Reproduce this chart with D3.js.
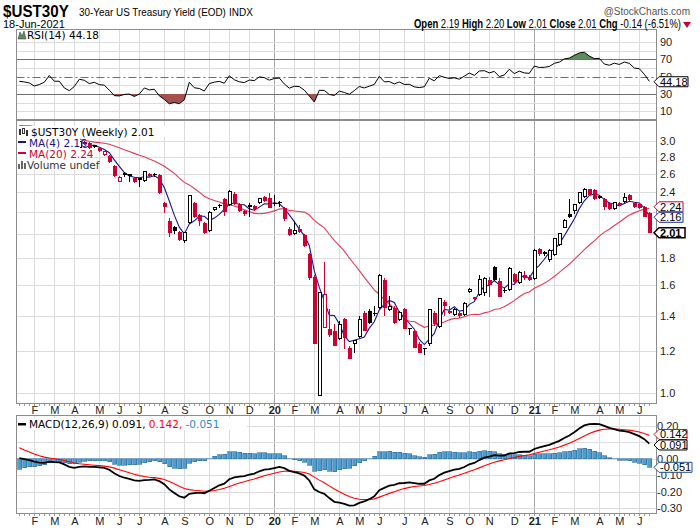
<!DOCTYPE html>
<html><head><meta charset="utf-8">
<script src="https://cdn.jsdelivr.net/npm/d3@7"></script>
<style>
body{margin:0;background:#fff}
svg{display:block}
text{font-family:"Liberation Sans",Arial,sans-serif}
.leg{font-family:"DejaVu Sans",Verdana,sans-serif;font-size:10.5px}
</style>
</head><body>
<svg id="c" width="700" height="530"></svg>
<script>
// ---------------- DATA ----------------
const firstWeek = "2019-01-14";   // Monday of first weekly bar
const weekCount = 127;
// weekly closes before the first visible bar (Jun 2018 - Jan 2019), used only to warm up indicators
const priorCloses = [3.04,3.07,3.04,3.04,2.98,2.94,2.94,3.03,3.08,3.08,3.03,3.06,3.05,3.02,3.10,3.07,3.20,3.19,3.40,3.32,3.38,3.31,3.46,3.38,3.31,3.32,3.30,3.14,3.14,3.02,3.03,2.98,2.99];
const opens = [2.98,3.06,3.05,3.04,2.98,3.00,3.02,3.10,3.03,3.02,2.88,2.84,2.91,2.98,2.97,2.94,2.90,2.82,2.81,2.69,
2.51,2.61,2.59,2.55,2.55,2.52,2.60,2.60,2.58,2.29,2.12,2.06,2.02,1.94,2.10,2.29,2.17,2.10,2.03,2.22,
2.27,2.33,2.27,2.38,2.28,2.21,2.27,2.26,2.29,2.35,2.34,2.29,2.30,2.24,2.04,2.00,2.04,1.99,1.83,1.66,
0.99,1.33,1.32,1.31,1.27,1.38,1.22,1.24,1.28,1.42,1.43,1.42,1.45,1.64,1.44,1.45,1.38,1.44,1.33,1.31,
1.24,1.22,1.24,1.42,1.34,1.49,1.43,1.41,1.42,1.41,1.56,1.52,1.54,1.55,1.64,1.73,1.63,1.57,1.57,1.68,
1.62,1.67,1.66,1.65,1.87,1.845,1.79,1.83,1.91,2.06,2.18,2.21,2.29,2.35,2.43,2.42,2.36,2.33,2.29,2.23,
2.29,2.30,2.37,2.29,2.28,2.25,2.19];
const highs = [3.08,3.08,3.07,3.05,3.03,3.03,3.12,3.10,3.05,3.05,2.91,2.91,3.00,2.99,2.98,2.95,2.92,2.86,2.82,2.70,
2.57,2.62,2.60,2.56,2.55,2.63,2.61,2.61,2.60,2.30,2.14,2.07,2.03,2.02,2.37,2.30,2.18,2.11,2.21,2.25,
2.28,2.34,2.42,2.40,2.29,2.22,2.29,2.27,2.34,2.36,2.39,2.37,2.31,2.25,2.06,2.12,2.08,2.00,1.84,1.67,
1.55,1.77,1.44,1.35,1.37,1.39,1.23,1.26,1.40,1.43,1.44,1.46,1.68,1.65,1.53,1.46,1.43,1.45,1.33,1.32,
1.25,1.22,1.44,1.43,1.51,1.50,1.46,1.45,1.43,1.49,1.58,1.52,1.67,1.66,1.66,1.74,1.65,1.58,1.73,1.69,
1.70,1.70,1.67,1.87,1.88,1.86,1.87,1.96,2.01,2.13,2.33,2.28,2.39,2.44,2.43,2.43,2.37,2.34,2.30,2.30,
2.30,2.39,2.38,2.30,2.29,2.26,2.20];
const lows = [2.97,3.03,2.99,2.97,2.97,2.99,3.02,3.02,3.00,2.88,2.81,2.84,2.90,2.95,2.89,2.90,2.85,2.81,2.72,2.56,
2.51,2.56,2.51,2.50,2.45,2.51,2.56,2.56,2.38,2.19,1.97,2.00,1.94,1.92,2.09,2.14,2.07,2.00,2.02,2.21,
2.24,2.16,2.26,2.27,2.20,2.16,2.15,2.21,2.28,2.30,2.24,2.26,2.25,2.12,1.98,1.99,2.01,1.89,1.64,1.24,
0.99,1.33,1.28,1.23,1.26,1.21,1.16,1.19,1.27,1.31,1.35,1.40,1.44,1.40,1.43,1.35,1.37,1.32,1.29,1.22,
1.19,1.18,1.23,1.34,1.33,1.40,1.41,1.40,1.39,1.40,1.55,1.50,1.53,1.53,1.52,1.63,1.52,1.55,1.56,1.61,
1.61,1.64,1.63,1.64,1.82,1.82,1.77,1.82,1.90,2.05,2.14,2.18,2.28,2.34,2.36,2.32,2.33,2.22,2.22,2.22,
2.26,2.29,2.31,2.24,2.23,2.15,2.01];
const closes = [3.06,3.05,3.03,2.97,2.99,3.02,3.12,3.02,3.02,2.88,2.81,2.87,2.99,2.97,2.90,2.92,2.87,2.86,2.74,2.57,
2.56,2.58,2.585,2.51,2.54,2.62,2.57,2.58,2.39,2.25,2.01,2.03,1.95,2.01,2.36,2.15,2.12,2.01,2.20,2.24,
2.26,2.20,2.41,2.28,2.21,2.18,2.25,2.23,2.33,2.31,2.24,2.28,2.29,2.13,1.99,2.03,2.02,1.90,1.65,1.24,
1.55,1.54,1.29,1.23,1.35,1.27,1.16,1.26,1.38,1.31,1.36,1.41,1.67,1.45,1.46,1.36,1.42,1.32,1.325,1.22,
1.19,1.21,1.44,1.35,1.51,1.46,1.42,1.44,1.40,1.48,1.57,1.51,1.64,1.65,1.60,1.64,1.52,1.56,1.72,1.62,
1.69,1.65,1.64,1.86,1.83,1.835,1.86,1.96,2.00,2.12,2.15,2.27,2.39,2.43,2.37,2.33,2.34,2.25,2.23,2.29,
2.27,2.34,2.32,2.25,2.24,2.15,2.01];
// first weekly bar of each month (gridlines) and their labels
const monthStarts = ["2019-02-04","2019-03-04","2019-04-01","2019-05-06","2019-06-03","2019-07-01","2019-08-05","2019-09-02","2019-10-07","2019-11-04","2019-12-02",
"2020-01-06","2020-02-03","2020-03-02","2020-04-06","2020-05-04","2020-06-01","2020-07-06","2020-08-03","2020-09-07","2020-10-05","2020-11-02","2020-12-07",
"2021-01-04","2021-02-01","2021-03-01","2021-04-05","2021-05-03","2021-05-31"];
const monthLabels = ["F","M","A","M","J","J","A","S","O","N","D","20","F","M","A","M","J","J","A","S","O","N","D","21","F","M","A","M","J"];
const priceTicks = [3.0,2.8,2.6,2.4,2.2,2.0,1.8,1.6,1.4,1.2,1.0];
const priceTickLabels = ["3.0","2.8","2.6","2.4","","","1.8","1.6","1.4","1.2","1.0"];
const rsiTicks = [90,70,50,30,10];
const macdTicks = [0.2,0.0,-0.1,-0.2,-0.3];
const macdTickLabels = ["0.20","0.00","-0.10","-0.20","-0.30"];
const lastValues = {rsi:"44.18", ma4:"2.16", ma20:"2.24", close:"2.01", macd:"0.091", signal:"0.142", hist:"-0.051"};
const header = {open:"2.19", high:"2.20", low:"2.01", close:"2.01", chg:"-0.14 (-6.51%)", date:"18-Jun-2021"};

// ---------------- HELPERS ----------------
const parse = d3.timeParse("%Y-%m-%d");
const weeks = d3.range(weekCount).map(k => d3.timeWeek.offset(parse(firstWeek), k));
const all = priorCloses.concat(closes);
const P = priorCloses.length;
function sma(arr,n){return arr.map((v,j)=> j<n-1?null:d3.mean(arr.slice(j-n+1,j+1)));}
function ema(arr,n){const k=2/(n+1);const out=arr.map(()=>null);let prev=null,sum=0,cnt=0;
  arr.forEach((v,j)=>{if(v==null)return; if(prev==null){sum+=v;cnt++; if(cnt===n){prev=sum/n;out[j]=prev;}} else {prev=v*k+prev*(1-k);out[j]=prev;}});return out;}
function rsiCalc(arr,n){const out=arr.map(()=>null);let ag=0,al=0;
  for(let j=1;j<=n;j++){const d=arr[j]-arr[j-1];ag+=Math.max(d,0);al+=Math.max(-d,0);}
  ag/=n;al/=n;out[n]=100-100/(1+ag/al);
  for(let j=n+1;j<arr.length;j++){const d=arr[j]-arr[j-1];ag=(ag*(n-1)+Math.max(d,0))/n;al=(al*(n-1)+Math.max(-d,0))/n;out[j]=al===0?100:100-100/(1+ag/al);}
  return out;}
const ma4 = sma(all,4).slice(P), ma20 = sma(all,20).slice(P);
const rsi = rsiCalc(all,14).slice(P);
const e12 = ema(all,12), e26 = ema(all,26);
const macdAll = all.map((v,j)=> (e12[j]!=null&&e26[j]!=null)? e12[j]-e26[j] : null);
const sigAll = ema(macdAll,9);
const macd = macdAll.slice(P), signal = sigAll.slice(P);
const hist = macd.map((v,j)=> v-signal[j]);

// ---------------- LAYOUT ----------------
const svg = d3.select("#c");
const L = 16.5, R = 656.5;
const rsiTop = 29.5, rsiBot = 119.5, mainTop = 120.5, mainBot = 403.5, macdTop = 415.5, macdBot = 513.5;
const x = d3.scaleBand().domain(weeks.map(d=>+d)).range([16.8, 16.8+5*weekCount]);
const cx = d => x(+d) + x.bandwidth()/2;
const yR = d3.scaleLinear().domain([0,100]).range([120,33.4]);
const yP = d3.scaleLog().domain([1,3]).range([393.3,140.7]);
const yM = d3.scaleLinear().domain([-0.3,0.2]).range([508.3,426]);
const RED = "#cc0033", GRID="#dcdcdc", YEARGRID="#a8a8a8", FRAME="#8c8c8c";
const MA4C = "#15158f", MA20C = "#e23a55";

const defs = svg.append("defs");
function clip(id,y0,y1){defs.append("clipPath").attr("id",id).append("rect").attr("x",L).attr("y",y0).attr("width",R-L).attr("height",y1-y0);}
clip("cr",rsiTop,rsiBot); clip("cm",mainTop,mainBot); clip("cd",macdTop,macdBot);
defs.append("clipPath").attr("id","above70").append("rect").attr("x",L).attr("y",rsiTop).attr("width",R-L).attr("height",yR(70)-rsiTop);
defs.append("clipPath").attr("id","below30").append("rect").attr("x",L).attr("y",yR(30)).attr("width",R-L).attr("height",rsiBot-yR(30));

// ---- gridlines ----
function vgrid(y0,y1){
  monthStarts.forEach((m,k)=>{
    const xx = Math.round(cx(parse(m)))+0.5;
    const isYear = /^\d\d$/.test(monthLabels[k]);
    svg.append("line").attr("x1",xx).attr("x2",xx).attr("y1",y0).attr("y2",y1)
      .attr("stroke",isYear?YEARGRID:GRID).attr("stroke-width",1);
  });
}
function hgrid(ys,color){ys.forEach(yy=>{const v=Math.round(yy)+0.5;svg.append("line").attr("x1",L).attr("x2",R).attr("y1",v).attr("y2",v).attr("stroke",color||GRID);});}

vgrid(rsiTop,rsiBot);
hgrid([10,20,40,60,80,90].map(yR));
hgrid([yR(70),yR(30)],"#6e6e6e");
svg.append("line").attr("x1",L).attr("x2",R).attr("y1",Math.round(yR(50))+0.5).attr("y2",Math.round(yR(50))+0.5)
  .attr("stroke","#6e6e6e").attr("stroke-dasharray","8,3,2,3");
vgrid(mainTop,mainBot);
hgrid(priceTicks.map(yP));
vgrid(macdTop,macdBot);
hgrid([0.2,0.1,0,-0.1,-0.2,-0.3].map(yM));

// ---- RSI ----
const rsiPts = rsi.map((v,j)=>({x:cx(weeks[j]),v}));
const areaUp = d3.area().x(d=>d.x).y0(yR(70)).y1(d=>yR(d.v));
const areaDn = d3.area().x(d=>d.x).y0(yR(30)).y1(d=>yR(d.v));
svg.append("path").datum(rsiPts).attr("d",areaUp).attr("fill","#5d8c5d").attr("clip-path","url(#above70)");
svg.append("path").datum(rsiPts).attr("d",areaDn).attr("fill","#a5524f").attr("clip-path","url(#below30)");
svg.append("path").datum(rsiPts).attr("d",d3.line().x(d=>d.x).y(d=>yR(d.v)))
  .attr("fill","none").attr("stroke","#000").attr("stroke-width",1).attr("clip-path","url(#cr)");

// ---- MAs ----
const gMain = svg.append("g").attr("clip-path","url(#cm)");
gMain.append("path").datum(ma20.map((v,j)=>[cx(weeks[j]),yP(v)])).attr("d",d3.line())
  .attr("fill","none").attr("stroke",MA20C).attr("stroke-width",1.1);
gMain.append("path").datum(ma4.map((v,j)=>[cx(weeks[j]),yP(v)])).attr("d",d3.line())
  .attr("fill","none").attr("stroke",MA4C).attr("stroke-width",1.1);

// ---- candles ----
const gC = gMain.append("g").attr("shape-rendering","crispEdges");
weeks.forEach((w,j)=>{
  const o=opens[j],h=highs[j],l=lows[j],c=closes[j];
  const prev = j>0?closes[j-1]:priorCloses[P-1];
  const col = c<prev?RED:"#000";
  const filled = c<o;
  const xc = Math.round(cx(w));
  const yt = yP(Math.max(o,c)), yb = yP(Math.min(o,c));
  gC.append("line").attr("x1",xc+0.5).attr("x2",xc+0.5).attr("y1",yP(h)).attr("y2",yP(l)).attr("stroke",col);
  if(filled){
    gC.append("rect").attr("x",xc-1.5).attr("y",yt).attr("width",4).attr("height",Math.max(1.5,yb-yt)).attr("fill",col);
  } else {
    gC.append("rect").attr("x",xc-1).attr("y",yt).attr("width",3).attr("height",Math.max(1,yb-yt))
      .attr("fill","#fff").attr("stroke",col).attr("stroke-width",1);
  }
});

// ---- MACD ----
const gD = svg.append("g").attr("clip-path","url(#cd)");
gD.append("g").attr("shape-rendering","crispEdges").selectAll("rect").data(hist).join("rect")
  .attr("x",(d,j)=>Math.round(cx(weeks[j]))-1.5).attr("width",4)
  .attr("y",d=>Math.min(yM(0),yM(d))).attr("height",d=>Math.abs(yM(d)-yM(0)))
  .attr("fill","#4f9cce").attr("stroke","#2a6d9e").attr("stroke-width",0.6);
gD.append("path").datum(signal.map((v,j)=>[cx(weeks[j]),yM(v)])).attr("d",d3.line())
  .attr("fill","none").attr("stroke","#ff0000").attr("stroke-width",1.1);
gD.append("path").datum(macd.map((v,j)=>[cx(weeks[j]),yM(v)])).attr("d",d3.line())
  .attr("fill","none").attr("stroke","#000").attr("stroke-width",1.8);

// ---- frames ----
[[rsiTop,rsiBot],[mainTop,mainBot],[macdTop,macdBot]].forEach(([a,b])=>{
  svg.append("rect").attr("x",L).attr("y",a).attr("width",R-L).attr("height",b-a).attr("fill","none").attr("stroke",FRAME);
});
[mainBot,macdBot].forEach(yb=>{
  weeks.forEach(w=>{const xx=Math.round(cx(w))+0.5; svg.append("line").attr("x1",xx).attr("x2",xx).attr("y1",yb).attr("y2",yb+2.5).attr("stroke","#999");});
});

// ---- axes labels ----
function monthAxis(yb){
  monthStarts.forEach((m,k)=>{
    const isYear = /^\d\d$/.test(monthLabels[k]);
    svg.append("text").attr("x",cx(parse(m))+0.5).attr("y",yb).attr("text-anchor","middle")
      .attr("font-size",11).attr("font-weight",isYear?"bold":"normal").attr("fill","#222").text(monthLabels[k]);
  });
}
monthAxis(414); monthAxis(525);
const AX = 660;
rsiTicks.forEach(t=>svg.append("text").attr("x",AX).attr("y",yR(t)+4).attr("font-size",11).attr("fill","#222").text(t));
priceTicks.forEach((t,k)=>{ if(priceTickLabels[k]) svg.append("text").attr("x",AX).attr("y",yP(t)+4).attr("font-size",11).attr("fill","#222").text(priceTickLabels[k]);});
macdTicks.forEach((t,k)=>{ if(macdTickLabels[k]) svg.append("text").attr("x",AX-3).attr("y",yM(t)+4).attr("font-size",11).attr("fill","#222").text(macdTickLabels[k]);});

// ---- value tags (stacked so they do not overlap) ----
function tags(list){
  list.sort((a,b)=>a.y-b.y);
  for(let k=1;k<list.length;k++){ if(list[k].y-list[k-1].y<10.5){ const mid=(list[k].y+list[k-1].y)/2; list[k-1].y=mid-5.25; list[k].y=mid+5.25; } }
  list.forEach(t=>{
    const x0=654,h=5,x1=654+t.w, yv=t.y;
    svg.append("path").attr("d",`M${x0},${yv}L${x0+5},${yv-h}L${x1},${yv-h}L${x1},${yv+h}L${x0+5},${yv+h}Z`)
      .attr("fill","#fff").attr("stroke",t.col).attr("stroke-width",t.bold?1.5:1);
    svg.append("text").attr("x",x0+6).attr("y",yv+4).attr("font-size",11).attr("font-weight",t.bold?"bold":"normal").attr("fill","#000").text(t.txt);
  });
}
tags([{y:yR(+lastValues.rsi),txt:lastValues.rsi,col:"#000",w:34}]);
tags([{y:yP(+lastValues.ma20),txt:lastValues.ma20,col:RED,w:29},
      {y:yP(+lastValues.ma4),txt:lastValues.ma4,col:"#1c2c9c",w:29},
      {y:yP(+lastValues.close),txt:lastValues.close,col:"#000",bold:true,w:31}]);
tags([{y:yM(+lastValues.signal),txt:lastValues.signal,col:"#ff0000",w:33},
      {y:yM(+lastValues.macd),txt:lastValues.macd,col:"#000",w:33},
      {y:yM(+lastValues.hist),txt:lastValues.hist,col:"#1f4f9f",w:38}]);

// ---- legends ----
function legBox(x0,y0,w,h){svg.append("rect").attr("x",x0).attr("y",y0).attr("width",w).attr("height",h).attr("fill","#fff");}
svg.append("path").attr("d","M18,39L20,32L22,36L24,31L26,39Z").attr("fill","#5d8c5d").attr("stroke","#333").attr("stroke-width",0.5);
svg.append("text").attr("class","leg").attr("x",27).attr("y",39).attr("fill","#000").text("RSI(14) "+lastValues.rsi);
legBox(17,126,148,11); legBox(17,137,63,11); legBox(17,148,70,11); legBox(17,159,77,11);
svg.append("g").attr("shape-rendering","crispEdges").call(g=>{
  g.append("rect").attr("x",19).attr("y",129).attr("width",2).attr("height",6).attr("fill","#333");
  g.append("rect").attr("x",22).attr("y",128).attr("width",2).attr("height",5).attr("fill","#fff").attr("stroke","#333");
  g.append("rect").attr("x",26).attr("y",130).attr("width",2).attr("height",6).attr("fill","#333");
});
svg.append("text").attr("class","leg").attr("x",31).attr("y",136).attr("fill","#000").text("$UST30Y (Weekly) "+lastValues.close);
svg.append("rect").attr("x",18).attr("y",141).attr("width",8).attr("height",2).attr("fill",MA4C);
svg.append("text").attr("class","leg").attr("x",29).attr("y",147).attr("fill",MA4C).text("MA(4) "+lastValues.ma4);
svg.append("rect").attr("x",18).attr("y",152).attr("width",8).attr("height",2).attr("fill",RED);
svg.append("text").attr("class","leg").attr("x",29).attr("y",158).attr("fill",RED).text("MA(20) "+lastValues.ma20);
[[18,164,2,5],[21,161,2,8],[24,163,2,6]].forEach(r=>svg.append("rect").attr("x",r[0]).attr("y",r[1]).attr("width",r[2]).attr("height",r[3]).attr("fill","#666"));
svg.append("text").attr("class","leg").attr("x",27).attr("y",169).attr("fill","#333").text("Volume undef");
legBox(17,418,230,12);
svg.append("rect").attr("x",18).attr("y",423).attr("width",8).attr("height",2.5).attr("fill","#000");
const mt = svg.append("text").attr("class","leg").attr("x",29).attr("y",428);
mt.append("tspan").attr("fill","#000").text("MACD(12,26,9) "+lastValues.macd+", ");
mt.append("tspan").attr("fill","#ff0000").text(lastValues.signal+", ");
mt.append("tspan").attr("fill","#2b8ac6").text(lastValues.hist);

// ---- header ----
svg.append("g").attr("transform","translate(3,16.5) scale(0.92,1)")
  .append("text").attr("font-size",16.5).attr("font-weight","bold").attr("fill","#000").text("$UST30Y");
svg.append("g").attr("transform","translate(79,16) scale(0.86,1)")
  .append("text").attr("font-size",11.5).attr("fill","#000").text("30-Year US Treasury Yield (EOD)");
svg.append("text").attr("x",229).attr("y",16).attr("font-size",10).attr("fill","#000").text("INDX");
svg.append("text").attr("x",690).attr("y",15).attr("text-anchor","end").attr("font-size",10).attr("fill","#555").text("@StockCharts.com");
svg.append("text").attr("x",3).attr("y",28).attr("font-size",11).attr("fill","#000").text(header.date);
const hdr = svg.append("g").attr("transform","translate(681,28) scale(0.76,1)")
  .append("text").attr("text-anchor","end").attr("font-size",12.5).attr("fill","#000");
[["Open ",header.open+" "],["High ",header.high+" "],["Low ",header.low+" "],["Close ",header.close+" "],["Chg ",header.chg]].forEach(([a,b])=>{
  hdr.append("tspan").attr("font-weight","bold").text(a); hdr.append("tspan").text(b);
});
svg.append("path").attr("d","M683,22L691,22L687,28Z").attr("fill",RED);
</script>
</body></html>
